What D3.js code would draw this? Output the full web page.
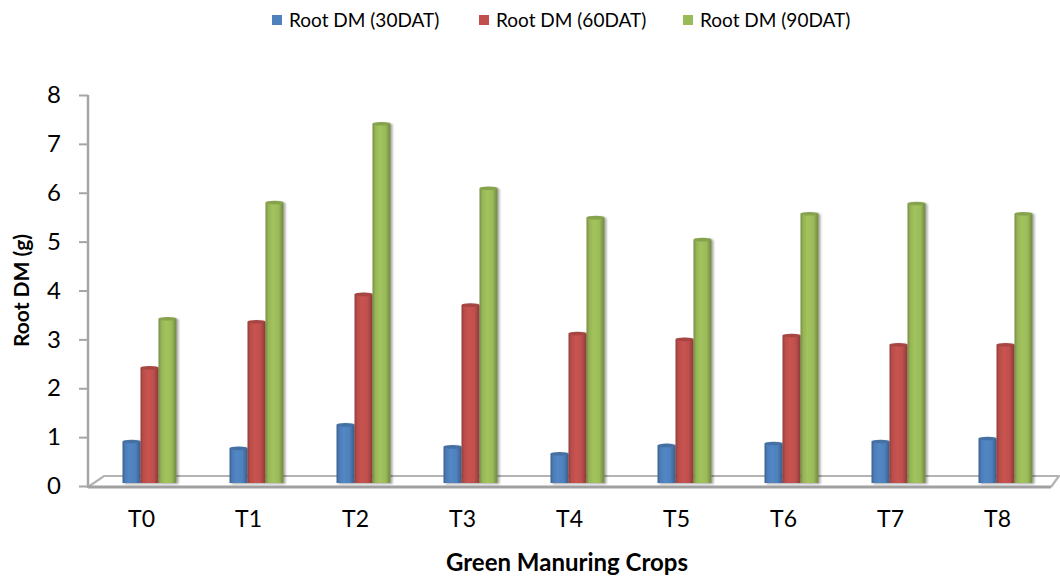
<!DOCTYPE html>
<html>
<head>
<meta charset="utf-8">
<script src="https://cdn.jsdelivr.net/npm/d3@7/dist/d3.min.js"></script>
<style>
  html, body { margin: 0; padding: 0; background: #fff; }
  svg { display: block; }
  text { font-family: Lato, "Open Sans", "Liberation Sans", sans-serif; fill: #000; }
</style>
</head>
<body>
<svg id="chart" width="1060" height="577"></svg>
<script>
const categories = ["T0", "T1", "T2", "T3", "T4", "T5", "T6", "T7", "T8"];
const seriesNames = ["Root DM (30DAT)", "Root DM (60DAT)", "Root DM (90DAT)"];
const dm30 = [0.88, 0.74, 1.22, 0.77, 0.63, 0.80, 0.84, 0.88, 0.94];
const dm60 = [2.39, 3.33, 3.89, 3.67, 3.09, 2.97, 3.05, 2.86, 2.86];
const dm90 = [3.39, 5.77, 7.38, 6.06, 5.46, 5.01, 5.54, 5.75, 5.54];
const yTicks = [0, 1, 2, 3, 4, 5, 6, 7, 8];
const colors = ["#4F81BD", "#C0504D", "#9BBB59"];
const xTitle = "Green Manuring Crops";
const yTitle = "Root DM (g)";

(function () {
const series = [dm30, dm60, dm90];

const svg = d3.select("#chart");
const pLeft = 88, pRight = 1051, pTop = 95, pBottom = 486;
const depthX = 16, depthY = 11;

const x = d3.scaleBand().domain(categories).range([pLeft, pRight]).padding(0);
const y = d3.scaleLinear().domain([0, 8]).range([pBottom, pTop]);
const inner = d3.scaleBand().domain(d3.range(series.length)).range([0, 54]);

const defs = svg.append("defs");
colors.forEach((c, i) => {
  const base = d3.color(c);
  const g = defs.append("linearGradient").attr("id", "g" + i)
    .attr("x1", "0%").attr("x2", "100%").attr("y1", "0%").attr("y2", "0%");
  g.append("stop").attr("offset", "0%").attr("stop-color", base.darker(0.8));
  g.append("stop").attr("offset", "15%").attr("stop-color", base.darker(0.1));
  g.append("stop").attr("offset", "40%").attr("stop-color", base.brighter(0.12));
  g.append("stop").attr("offset", "72%").attr("stop-color", base);
  g.append("stop").attr("offset", "100%").attr("stop-color", base.darker(0.9));
});
const sh = defs.append("filter").attr("id", "shadow").attr("x", "-20%").attr("y", "-20%").attr("width", "140%").attr("height", "140%");
sh.append("feGaussianBlur").attr("in", "SourceAlpha").attr("stdDeviation", 1.2);
sh.append("feOffset").attr("dx", 1.5).attr("dy", 1).attr("result", "ob");
sh.append("feComponentTransfer").append("feFuncA").attr("type", "linear").attr("slope", 0.35);
const mg = sh.append("feMerge");
mg.append("feMergeNode");
mg.append("feMergeNode").attr("in", "SourceGraphic");

// floor
const floor = svg.append("g");
floor.append("path")
  .attr("d", `M${pLeft},${y(0) + 1} L${pLeft + depthX},${y(0) + 1 - depthY} L${pRight + 8},${y(0) + 1 - depthY} L${pRight},${y(0) + 1}`)
  .attr("fill", "none").attr("stroke", "#b3b3b3").attr("stroke-width", 2.2);
floor.append("line")
  .attr("x1", pLeft).attr("x2", pRight).attr("y1", y(0) + 1).attr("y2", y(0) + 1)
  .attr("stroke", "#a0a0a0").attr("stroke-width", 3);

// y axis line
svg.append("line")
  .attr("x1", pLeft).attr("x2", pLeft).attr("y1", pTop).attr("y2", y(0) + 2)
  .attr("stroke", "#a6a6a6").attr("stroke-width", 2.5);

const yAxis = d3.axisLeft(y).tickValues(yTicks).tickFormat(d3.format("d")).tickSize(9).tickPadding(18);
const ya = svg.append("g").attr("transform", `translate(${pLeft},0)`).call(yAxis);
ya.select(".domain").remove();
ya.selectAll(".tick line").attr("stroke", "#a6a6a6").attr("stroke-width", 2);
ya.selectAll(".tick text").style("font-size", "24px").attr("fill", "#000");

const xAxis = d3.axisBottom(x).tickSize(0).tickPadding(25);
const xa = svg.append("g").attr("transform", `translate(0,${pBottom})`).call(xAxis);
xa.select(".domain").remove();
xa.selectAll(".tick text").style("font-size", "23px").attr("fill", "#000");

// bars (cylinders)
const baseY = y(0) - 3;
const groupShift = 8;
const bars = svg.append("g");
categories.forEach((cat, ci) => {
  const gx = x(cat) + x.bandwidth() / 2 + groupShift - 27;
  series.forEach((vals, si) => {
    const bx = gx + inner(si);
    const bw = inner.bandwidth();
    const ty = y(vals[ci]) - (pBottom - baseY);
    const g = bars.append("g").attr("filter", "url(#shadow)");
    g.append("rect")
      .attr("x", bx).attr("y", ty + 1.5)
      .attr("width", bw).attr("height", baseY - ty - 1.5)
      .attr("fill", `url(#g${si})`);
    g.append("ellipse")
      .attr("cx", bx + bw / 2).attr("cy", ty + 1.5)
      .attr("rx", bw / 2).attr("ry", 1.8)
      .attr("fill", d3.color(colors[si]).darker(0.4));
  });
});

svg.append("text")
  .attr("x", 567).attr("y", 571)
  .attr("text-anchor", "middle")
  .style("font-size", "24px").style("font-weight", "bold")
  .text(xTitle);

svg.append("text")
  .attr("transform", `translate(29,${(pTop + pBottom) / 2}) rotate(-90)`)
  .attr("text-anchor", "middle")
  .style("font-size", "21px").style("font-weight", "bold")
  .text(yTitle);

const legendX = [272, 479, 683];
const lg = svg.append("g");
seriesNames.forEach((n, i) => {
  lg.append("rect").attr("x", legendX[i]).attr("y", 15).attr("width", 10).attr("height", 10).attr("fill", colors[i]);
  lg.append("text").attr("x", legendX[i] + 17).attr("y", 27)
    .style("font-size", "19px").text(n);
});
})();
</script>
</body>
</html>
